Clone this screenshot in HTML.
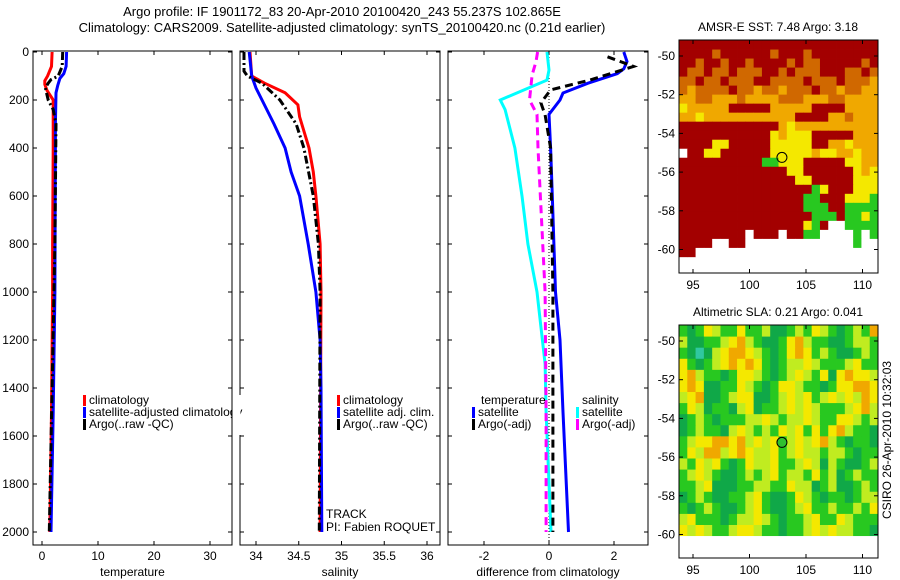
<!DOCTYPE html>
<html><head><meta charset="utf-8"><style>
html,body{margin:0;padding:0;background:#fff;}
svg{display:block;font-family:"Liberation Sans",sans-serif;}
</style></head><body>
<svg id="fig" width="900" height="580" viewBox="0 0 900 580" xmlns="http://www.w3.org/2000/svg">
<text x="342" y="16" font-size="13" text-anchor="middle">Argo profile: IF 1901172_83 20-Apr-2010 20100420_243 55.237S 102.865E</text>
<text x="342" y="32" font-size="13" text-anchor="middle">Climatology: CARS2009. Satellite-adjusted climatology: synTS_20100420.nc (0.21d earlier)</text>
<g id="g"></g>
</svg>
<script>
const NS='http://www.w3.org/2000/svg';
const root=document.getElementById('g');
function el(tag,attrs,parent,text){const e=document.createElementNS(NS,tag);for(const k in attrs)e.setAttribute(k,attrs[k]);if(text!==undefined)e.textContent=text;(parent||root).appendChild(e);return e;}

// ---- data ----
const depthTicks=[0,200,400,600,800,1000,1200,1400,1600,1800,2000];
const tempTicks=[0,10,20,30];
const salTicks=[34,34.5,35,35.5,36];
const salTickLabels=['34','34.5','35','35.5','36'];
const diffTicks=[-2,0,2];
const tempClimDepth=[0,60,100,120,135,160,200,400,800,1000,1500,2000];
const tempClim=[1.8,1.7,1.0,0.5,0.5,0.9,2.0,2.0,1.9,1.9,1.7,1.4];
const tempSatDepth=[0,60,90,110,140,170,300,400,1000,1500,2000];
const tempSat=[4.4,4.3,3.9,3.2,2.8,2.5,2.4,2.4,2.3,2.0,1.6];
const tempArgoDepth=[0,60,100,115,130,150,200,240,300,800,1400,2000];
const tempArgo=[3.7,3.6,2.9,1.6,1.1,0.6,1.1,2.0,2.5,2.3,1.8,1.3];
const salClimDepth=[0,100,130,170,220,270,400,500,600,800,1000,2000];
const salClim=[33.93,33.95,34.10,34.34,34.49,34.51,34.62,34.67,34.70,34.75,34.76,34.75];
const salSatDepth=[0,100,150,200,250,300,400,500,600,800,1000,1200,1400,2000];
const salSat=[33.92,33.95,34.00,34.07,34.14,34.21,34.34,34.41,34.51,34.61,34.70,34.75,34.76,34.77];
const salArgoDepth=[0,80,100,130,200,300,400,600,800,1000,2000];
const salArgo=[33.86,33.86,33.90,34.07,34.28,34.47,34.56,34.67,34.73,34.75,34.74];
const dTempSatDepth=[0,20,40,70,90,130,171,200,260,400,600,1000,1200,1500,2000];
const dTempSat=[2.3,2.35,2.4,2.3,2.1,1.2,0.43,0.34,0.0,0.05,0.1,0.2,0.34,0.43,0.6];
const dTempArgoDepth=[20,40,60,117,158,212,262,400,1000,2000];
const dTempArgo=[1.8,2.2,2.6,1.25,0.05,-0.25,-0.12,0.05,0.12,0.12];
const dSalSatDepth=[0,75,117,200,240,400,600,800,1000,1300,1500,2000];
const dSalSat=[-0.06,0.0,-0.06,-1.5,-1.35,-1.05,-0.83,-0.65,-0.37,-0.12,-0.09,0.06];
const dSalArgoDepth=[0,40,96,200,260,400,1000,1500,2000];
const dSalArgo=[-0.35,-0.4,-0.52,-0.6,-0.37,-0.34,-0.12,-0.09,-0.09];

const yD=d=>52+d*0.24;
const panels=[
 {name:'temperature',x0:33,x1:232,xs:v=>42+v*5.6,ticks:tempTicks,labels:tempTicks.map(String),ylab:true},
 {name:'salinity',x0:240,x1:440,xs:v=>256+(v-34)*85.5,ticks:salTicks,labels:salTickLabels,ylab:false},
 {name:'difference from climatology',x0:448,x1:648,xs:v=>549+v*32.5,ticks:diffTicks,labels:diffTicks.map(String),ylab:false}
];
const yTop=51,yBot=545;
panels.forEach((p,i)=>{
 const g=el('g',{});
 
 
 const r=el('rect',{x:p.x0,y:yTop,width:p.x1-p.x0,height:yBot-yTop,fill:'none',stroke:'#000','stroke-width':1},g);
 
 
 p.ticks.forEach((t,j)=>{
  const x=p.xs(t);
  el('line',{x1:x,x2:x,y1:yTop,y2:yTop+4,stroke:'#000'},g);
  el('line',{x1:x,x2:x,y1:yBot,y2:yBot-4,stroke:'#000'},g);
  const tl=el('text',{x:x,y:yBot+15,'font-size':12,'text-anchor':'middle'},g,p.labels[j]);
  
  
 });
 depthTicks.forEach(d=>{
  const y=yD(d);
  el('line',{x1:p.x0,x2:p.x0+4,y1:y,y2:y,stroke:'#000'},g);
  el('line',{x1:p.x1,x2:p.x1-4,y1:y,y2:y,stroke:'#000'},g);
  if(p.ylab){const t=el('text',{x:p.x0-4,y:y+4,'font-size':12,'text-anchor':'end'},g,String(d));
   
   }
 });
 const xt=el('text',{x:(p.x0+p.x1)/2,y:576,'font-size':12,'text-anchor':'middle'},g,p.name);
 
 
});
function line(px,depths,vals,color,dash,w,name){
 const pts=depths.map((d,i)=>panels[px].xs(vals[i]).toFixed(1)+','+yD(d).toFixed(1)).join(' ');
 const l=el('polyline',{points:pts,fill:'none',stroke:color,'stroke-width':w||3,'stroke-dasharray':dash||'none'});
 
 
}
const z=el('line',{x1:549,x2:549,y1:yTop,y2:yBot,stroke:'#000','stroke-width':1,'stroke-dasharray':'1,2'});


line(0,tempClimDepth,tempClim,'#f00',null,3,'temp-climatology-line');
line(0,tempSatDepth,tempSat,'#00f',null,3,'temp-satellite-line');
line(0,tempArgoDepth,tempArgo,'#000','8,3,2,3',3,'temp-argo-line');
line(1,salClimDepth,salClim,'#f00',null,3,'sal-climatology-line');
line(1,salSatDepth,salSat,'#00f',null,3,'sal-satellite-line');
line(1,salArgoDepth,salArgo,'#000','8,3,2,3',3,'sal-argo-line');
line(2,dSalSatDepth,dSalSat,'#0ff',null,3,'diff-sal-satellite-line');
line(2,dSalArgoDepth,dSalArgo,'#f0f','8,5',3,'diff-sal-argo-line');
line(2,dTempSatDepth,dTempSat,'#00f',null,3,'diff-temp-satellite-line');
line(2,dTempArgoDepth,dTempArgo,'#000','8,5',3,'diff-temp-argo-line');

function leg(x,y,color,text,name){
 const g=el('g',{});
 
 
 if(color)el('rect',{x:x,y:y-9,width:3,height:11,fill:color},g);
 el('text',{x:x+6,y:y,'font-size':12},g,text);
}
leg(83,404,'#f00','climatology','legend-entry-climatology');
leg(83,416,'#00f','satellite-adjusted climatology','legend-entry-satellite');
leg(83,428,'#000','Argo(..raw -QC)','legend-entry-argo');
el('rect',{x:232.5,y:395,width:8,height:40,fill:'#fff'});
leg(337,404,'#f00','climatology','legend-entry-sal-climatology');
leg(337,416,'#00f','satellite adj. clim.','legend-entry-sal-satellite');
leg(337,428,'#000','Argo(..raw -QC)','legend-entry-sal-argo');
leg(475,404,null,'temperature','legend-heading-temperature');
leg(472,416,'#00f','satellite','legend-entry-dtemp-satellite');
leg(472,428,'#000','Argo(-adj)','legend-entry-dtemp-argo');
leg(576,404,null,'salinity','legend-heading-salinity');
leg(576,416,'#0ff','satellite','legend-entry-dsal-satellite');
leg(576,428,'#f0f','Argo(-adj)','legend-entry-dsal-argo');
const t1=el('text',{x:326,y:518,'font-size':12},root,'TRACK');

const t2=el('text',{x:326,y:531,'font-size':12},root,'PI: Fabien ROQUET');


// ---- maps ----
const lonTicks=[95,100,105,110];
const latTicks=[-50,-52,-54,-56,-58,-60];
const sstGrid=[
"RRRRRRRRRRRRRRRRRRRRRRRR",
"RRRRDRRRRRRDRRRDRRRRRRRR",
"RRDRRDRRDRRRRDRDDRRRRRDR",
"RDDRDDRDDDRRDRDDDRRRDDRD",
"DDRDDRDDDRRDDDDRDDDRDDDO",
"DODDDDRDDODDODDDRDDODDOO",
"OODDOOODOOOODDDOOODDOOOO",
"YOOOOORRRRROOOOORRRROOOO",
"OOYOOOOOOOOOOORRRROODOOO",
"RRRRRRRRRRRROYOOOOOOOOOO",
"RRRRRRRRRRRYOYYYRRRRROOO",
"RRRRYYRRRRRYYYYYRROOYOOO",
"WRRYYRRRRRRYYYYYOYYOOYOO",
"RRRRRRRRRRGGYYYRRRRRYYOO",
"RRRRRRRRRRRRRYYRRRRRRYOY",
"RRRRRRRRRRRRRRYYRRRRRYYY",
"RRRRRRRRRRRRRRRRGYRRRYYY",
"RRRRRRRRRRRRRRRGGRRRYYYG",
"RRRRRRRRRRRRRRRGGGRRGGGG",
"RRRRRRRRRRRRRRRRGGGRGGYG",
"RRRRRRRRRRRRRRRYGRWWGGGG",
"RRRRRRRRWRRRWRRGGWWWWGWG",
"RRRRWWRRWWWWWWWWWWWWWGWW",
"RRWWWWWWWWWWWWWWWWWWWWWW"];
const slaGrid=[
"GKGYLGGYGGLKKGLGYLGKGLGO",
"LKKGGLYOLGKKGYOLGGKKGLLG",
"GKCKLYOOYLGKGYOYGLGKKGLG",
"YGKGLYOYOYGKGLLYLGGGLYGG",
"YOLGGKGYYLGKGLYLGYKYOYYL",
"YOYKKGGYLGKGYYLGGKGYYOOY",
"LYOKKGLYYKKGLYLYGLYLYLOY",
"GYLKGGKLYKGGLYLYLGGGLYOL",
"KGLGKGGGLLYLGLLYLGGYYLGL",
"KGLGGKLYLGLGYLYGYGYOLGGK",
"GLYYOOYOLYLYGLYLYOLGKGGK",
"GYLOOLYOYLLYGLYLLGLLGKGG",
"LGYLYGKGYLLYGGLYLKLGKKGL",
"GLYLGKKGLGLYGLLGYGLKGLGG",
"GGLYKKKGGLLGGYLLKGLKKGLG",
"KGLGKKGGLYGKKGYLGKGGKGLL",
"GKGLGKKGLYGKKGLYGGLGGLGY",
"LYGGGKGLLYLGKGGLYGGYLGGG",
"YLYLGGLYYLGGKGGLYLYLLGGK"];
const colors={R:'#a30000',D:'#d06800',O:'#f0a800',Y:'#f4e800',G:'#28c820',W:'#ffffff',K:'#10a848',L:'#c0ec20',C:'#30c8a0'};
function map(y0,grid,title,name,rows,dotFill,cellLat){
 const g=el('g',{});
 
 
 const x0=679,x1=878,y1=y0+233;
 const lx=l=>693+(l-95)*11.3, ly=a=>y0+16+(-50-a)*19.35;
 const latTop=-49.2, latBot=-49.2-rows;
 const ncol=grid[0].length;
 const cw=(x1-x0)/ncol, ch=cellLat*19.35;
 grid.forEach((row,r)=>{
  [...row].forEach((c,k)=>{
   const cell=el('rect',{x:(x0+k*cw).toFixed(2),y:(ly(latTop-r*cellLat)).toFixed(2),width:(cw+0.4).toFixed(2),height:(ch+0.4).toFixed(2),fill:colors[c]},g);
   
   
  });
 });
 el('rect',{x:x0,y:ly(latBot),width:x1-x0,height:y1-ly(latBot),fill:'#fff'},g);
 el('rect',{x:x0,y:y0,width:x1-x0,height:y1-y0,fill:'none',stroke:'#000'},g);
 lonTicks.forEach(l=>{el('line',{x1:lx(l),x2:lx(l),y1:y0,y2:y0+4,stroke:'#000'},g);el('line',{x1:lx(l),x2:lx(l),y1:y1,y2:y1-4,stroke:'#000'},g);
  const t=el('text',{x:lx(l),y:y1+16,'font-size':12,'text-anchor':'middle'},g,String(l));
  });
 latTicks.forEach(a=>{el('line',{x1:x0,x2:x0+4,y1:ly(a),y2:ly(a),stroke:'#000'},g);el('line',{x1:x1,x2:x1-4,y1:ly(a),y2:ly(a),stroke:'#000'},g);
  const t=el('text',{x:x0-4,y:ly(a)+4,'font-size':12,'text-anchor':'end'},g,String(a));
  });
 const c=el('circle',{cx:lx(102.87),cy:ly(-55.24),r:5,fill:dotFill,stroke:'#000','stroke-width':1},g);
 
 const tt=el('text',{x:778,y:y0-9,'font-size':12,'text-anchor':'middle'},g,title);
 
}
map(40,sstGrid,'AMSR-E SST: 7.48 Argo: 3.18','sst-map',11.2,'none',0.466);
map(325,slaGrid,'Altimetric SLA: 0.21 Argo: 0.041','sla-map',10.88,'#30c030',0.5727);
const cs=el('text',{x:0,y:0,'font-size':12,'text-anchor':'middle',transform:'translate(891,440) rotate(-90)'},root,'CSIRO 26-Apr-2010 10:32:03');

</script>
</body></html>
